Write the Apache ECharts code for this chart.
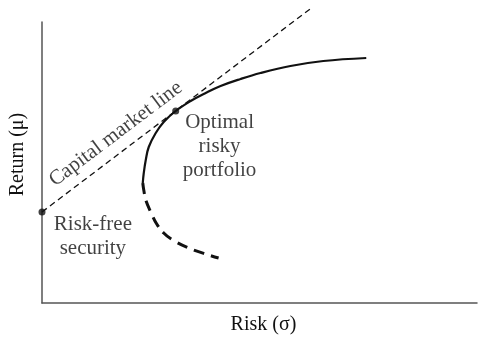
<!DOCTYPE html>
<html>
<head>
<meta charset="utf-8">
<script src="https://cdn.jsdelivr.net/npm/echarts@6/dist/echarts.min.js"></script>
<style>
  html, body { margin: 0; padding: 0; background: #fff; }
  #chart { width: 478px; height: 340px; }
</style>
</head>
<body>
<div id="chart"></div>
<script>
// efficient frontier, upper (solid) part
var frontierUpper = [[325, 245], [282, 242], [249, 237], [219, 230], [199, 224], [179, 217],
  [164, 210], [149, 202], [134, 192], [122, 181], [114, 170], [107, 156], [104, 143],
  [102, 130], [101, 120]];
// lower (dashed) part
var frontierLower = [[101, 120], [102, 113], [104, 103], [109, 91], [115, 79], [122, 70],
  [131, 63], [147, 55], [167, 48], [177, 45]];
// capital market line
var cml = [[0, 91], [270, 295]];
// marked points: risk-free security, optimal risky portfolio
var dots = [[0, 91], [134, 192]];
// annotations: x, y, text, rotation
var notes = [
  [178, 157, 'Optimal\nrisky\nportfolio', 0],
  [51, 67, 'Risk-free\nsecurity', 0],
  [74, 169, 'Capital market line', 37]
];

var font = 'Liberation Serif';
var ink = '#111';
var chart = echarts.init(document.getElementById('chart'));

chart.setOption({
  animation: false,
  grid: { left: 41, right: 1, top: 22, bottom: 37 },
  xAxis: {
    type: 'value', min: 0, max: 436,
    name: 'Risk (σ)', nameLocation: 'middle', nameGap: 12,
    nameTextStyle: { fontFamily: font, fontSize: 20, color: ink, padding: [0, 0, 0, 8] },
    axisLine: { lineStyle: { color: '#555', width: 1.5 } },
    axisTick: { show: false }, axisLabel: { show: false }, splitLine: { show: false }
  },
  yAxis: {
    type: 'value', min: 0, max: 281,
    name: 'Return (μ)', nameLocation: 'middle', nameGap: 14,
    nameTextStyle: { fontFamily: font, fontSize: 20, color: ink, padding: [0, 0, 0, 16] },
    axisLine: { show: true, lineStyle: { color: '#555', width: 1.5 } },
    axisTick: { show: false }, axisLabel: { show: false }, splitLine: { show: false }
  },
  series: [
    {
      type: 'line', data: cml, symbol: 'none', clip: false,
      lineStyle: { color: ink, width: 1.3, type: [6, 4] }
    },
    {
      type: 'line', data: frontierUpper, symbol: 'none', smooth: 0.4, clip: false,
      lineStyle: { color: ink, width: 2.2 }
    },
    {
      type: 'line', data: frontierLower, symbol: 'none', smooth: 0.4, clip: false,
      lineStyle: { color: ink, width: 3, type: [11, 7] }
    },
    {
      type: 'scatter', data: dots, symbolSize: 7, clip: false,
      itemStyle: { color: ink }
    },
    {
      type: 'scatter', symbolSize: 0, clip: false,
      data: notes.map(function (n) {
        return { value: [n[0], n[1]], name: n[2], label: { rotate: n[3] } };
      }),
      label: {
        show: true, position: 'inside',
        fontFamily: font, fontSize: 21, lineHeight: 24, color: ink, align: 'center',
        formatter: function (p) { return p.name; }
      }
    }
  ]
});
</script>
</body>
</html>
